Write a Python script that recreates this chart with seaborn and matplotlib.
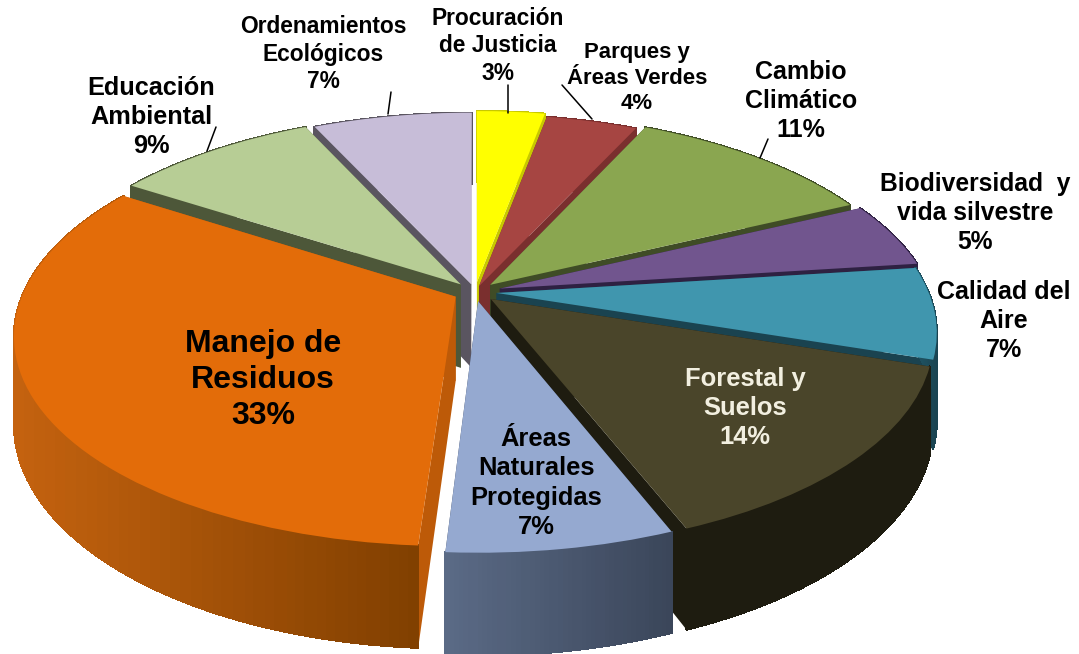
import seaborn as sns
import numpy as np
import matplotlib.pyplot as plt
from matplotlib.collections import PolyCollection
from matplotlib.transforms import Transform

# clockwise from 12 o'clock
names = ["Procuración\nde Justicia", "Parques y\nÁreas Verdes", "Cambio\nClimático",
         "Biodiversidad  y\nvida silvestre", "Calidad del\nAire", "Forestal y\nSuelos",
         "Áreas\nNaturales\nProtegidas", "Manejo de\nResiduos", "Educación\nAmbiental",
         "Ordenamientos\nEcológicos"]
values = [3, 4, 11, 5, 7, 14, 7, 33, 9, 7]

top_colors = ["#FFFF00", "#A64542", "#8AA650", "#71558E", "#4096AE",
              "#4A452A", "#95A9D0", "#E36C09", "#B7CD95", "#C7BDD8"]
wall_colors = ["#C8C800", "#7A2F2E", "#3F4C26", "#2E2142", "#1A4350",
               "#1E1C10", "#3A4559", "#BD5A08", "#4D5739", "#5A5560"]
side_left = ["#C8C800", "#7A2F2E", "#3F4C26", "#2E2142", "#1F5565",
             "#1E1C10", "#5A6A85", "#C4620F", "#4D5739", "#5A5560"]
side_right = ["#C8C800", "#7A2F2E", "#3F4C26", "#2E2142", "#1A4350",
              "#1E1C10", "#3A4559", "#7F3F00", "#4D5739", "#5A5560"]
explode = [0.05, 0.03, 0.05, 0.06, 0.05, 0.05, 0.045, 0.05, 0.05, 0.04]

# layout of the labels, in pixels
label_pos = [(498, 46), (637, 78), (801, 101), (975, 213), (1004, 321), (745, 408),
             (536, 483), (263, 380), (151, 117), (323, 54)]
label_size = [16.4, 15.9, 18, 17.7, 18, 18.4, 18.4, 23, 18.2, 16.4]
label_color = ["black"] * 5 + ["#F2EFE0"] + ["black"] * 4
leaders = [((508, 113), (508, 85)), ((592, 119), (562, 85)), ((760, 158), (768, 139)),
           ((207, 151), (216, 127)), ((388, 114), (391, 92))]

cx, cy, rx, ry = 475, 292, 432, 204
depth = 84
persp_x, persp_y = 0.18, 0.175


def project(x, y, z=0.0):
    x, y = np.asarray(x, float), np.asarray(y, float)
    fx = 1 / (1 + persp_x * y)
    fy = 1 / (1 + persp_y * y)
    return np.column_stack([cx + rx * x * fx, cy - ry * y * fy + depth * z * fy])


class Tilt(Transform):
    input_dims = output_dims = 2

    def transform_non_affine(self, xy):
        xy = np.asarray(xy)
        return project(xy[:, 0], xy[:, 1])


sns.set_theme(style="white")
plt.rcParams['font.family'] = ['Liberation Sans', 'DejaVu Sans']

fig = plt.figure(figsize=(10.79, 6.54), dpi=100)
ax = fig.add_axes([0, 0, 1, 1])
wedges, _ = ax.pie(values, colors=top_colors, explode=explode, startangle=90,
                   counterclock=False, wedgeprops=dict(linewidth=0))
ax.set_aspect("auto")
ax.set_xlim(0, 1079)
ax.set_ylim(654, 0)
ax.axis("off")

# far slices first, near ones paint over them
mids = [(w.theta1 + w.theta2) / 2 for w in wedges]
order = np.argsort([-(w.center[1] + 0.6 * np.sin(np.radians(m))) for w, m in zip(wedges, mids)])

for rank, i in enumerate(order):
    w = wedges[i]
    z0 = 3 * rank + 1
    a = np.radians(np.linspace(w.theta1, w.theta2, max(int(w.theta2 - w.theta1) * 2, 4)))
    ex = w.center[0] + np.cos(a)
    ey = w.center[1] + np.sin(a)
    top = project(ex, ey, 0)
    bot = project(ex, ey, 1)
    # the two cut faces
    apex_t = project([w.center[0]], [w.center[1]], 0)[0]
    apex_b = project([w.center[0]], [w.center[1]], 1)[0]
    for e_t, e_b in ((top[0], bot[0]), (top[-1], bot[-1])):
        ax.fill([apex_t[0], e_t[0], e_b[0], apex_b[0]], [apex_t[1], e_t[1], e_b[1], apex_b[1]],
                color=wall_colors[i], lw=0, zorder=z0)
    # rim, shaded left to right
    pal = sns.blend_palette([side_left[i], side_right[i]], 40)
    xs = top[:, 0]
    t = (xs[:-1] - xs.min()) / max(np.ptp(xs), 1)
    shade = [pal[int(v * (len(pal) - 1))] for v in t]
    rim = np.vstack([top, bot[::-1]])
    ax.fill(rim[:, 0], rim[:, 1], color=pal[20], lw=0, zorder=z0 + 1)
    quads = [np.array([top[j], top[j + 1], bot[j + 1], bot[j]]) for j in range(len(a) - 1)]
    ax.add_collection(PolyCollection(quads, facecolors=shade, edgecolors=shade, linewidths=0.8,
                                     antialiaseds=False, zorder=z0 + 1))
    w.set_transform(Tilt() + ax.transData)
    w.set_zorder(z0 + 2)
    w.set_clip_on(False)

for (x0, y0), (x1, y1) in leaders:
    ax.plot([x0, x1], [y0, y1], color="black", lw=1.1, zorder=60)

for name, v, (x, y), s, c in zip(names, values, label_pos, label_size, label_color):
    ax.text(x, y, f"{name}\n{v}%", ha="center", va="center", fontsize=s, fontweight="bold",
            color=c, linespacing=1.27, zorder=70)

plt.savefig("out.png", dpi=100)
plt.close()
